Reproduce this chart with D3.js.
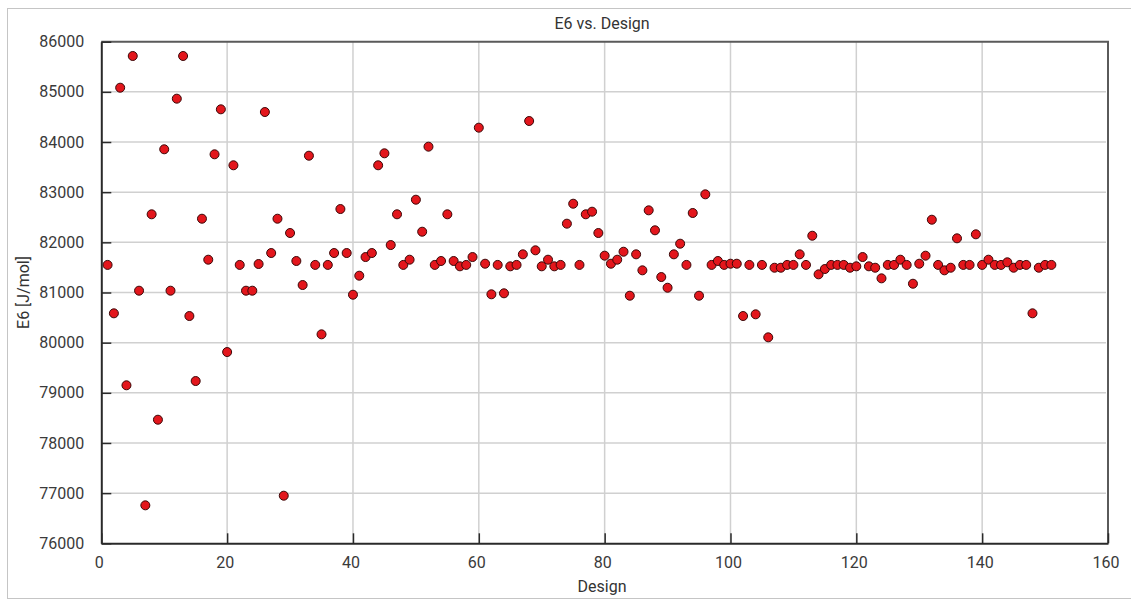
<!DOCTYPE html>
<html>
<head>
<meta charset="utf-8">
<script src="https://cdn.jsdelivr.net/npm/d3@7"></script>
<style>
  html, body { margin: 0; padding: 0; background: #fff; }
  svg { display: block; font-family: Roboto, "Noto Sans", sans-serif; }
</style>
</head>
<body>
<svg id="chart" width="1131" height="599"></svg>
<script>
// E6 energy per design
const e6Values = [
  81550, 80585, 85083, 79150, 85715, 81036, 76757, 82559, 78464, 83855,
  81036, 84864, 85715, 80531, 79235, 82471, 81654, 83755, 84652, 79813,
  83536, 81550, 81036, 81036, 81568, 84598, 81787, 82471, 76949, 82186,
  81628, 81149, 83727, 81550, 80166, 81550, 81787, 82664, 81787, 80956,
  81335, 81707, 81787, 83536, 83775, 81946, 82559, 81550, 81654, 82850,
  82212, 83907, 81550, 81628, 82559, 81628, 81522, 81550, 81707, 84286,
  81574, 80964, 81550, 80984, 81522, 81550, 81761, 84419, 81841, 81522,
  81654, 81522, 81550, 82372, 82770, 81550, 82559, 82611, 82186, 81734,
  81574, 81654, 81813, 80936, 81761, 81442, 82638, 82240, 81308, 81095,
  81761, 81973, 81550, 82585, 80936, 82957, 81550, 81628, 81550, 81574,
  81574, 80531, 81550, 80565, 81550, 80106, 81494, 81494, 81550, 81550,
  81761, 81550, 82132, 81362, 81468, 81550, 81550, 81550, 81494, 81522,
  81707, 81522, 81494, 81282, 81550, 81550, 81654, 81550, 81175, 81574,
  81734, 82451, 81550, 81442, 81494, 82080, 81550, 81550, 82160, 81550,
  81654, 81550, 81550, 81602, 81494, 81550, 81550, 80585, 81494, 81550,
  81550
];
// design ids run 1..N in the order the values were recorded
const designIds = e6Values.map((v, i) => i + 1);

const xTicks = [0, 20, 40, 60, 80, 100, 120, 140, 160];
const yTicks = [76000, 77000, 78000, 79000, 80000, 81000, 82000, 83000, 84000, 85000, 86000];

const titleText = "E6 vs. Design";
const xLabel = "Design";
const yLabel = "E6 [J/mol]";

const svg = d3.select("#chart");
const plotL = 101.3, plotR = 1108, plotT = 41.7, plotB = 543.3;

const x = d3.scaleLinear().domain([0, 160]).range([plotL, plotR]);
const y = d3.scaleLinear().domain([76000, 86000]).range([plotB, plotT]);

// outer dotted border
svg.append("rect")
  .attr("x", 7.5).attr("y", 8.5)
  .attr("width", 1135).attr("height", 590)
  .attr("fill", "none")
  .attr("stroke", "#8a8a8a")
  .attr("stroke-width", 1)
  .attr("stroke-dasharray", "1,1");

// grid
const grid = svg.append("g").attr("stroke", "#d0d0d0").attr("stroke-width", 1.5);
grid.selectAll("line.v").data(xTicks.slice(1, -1)).join("line")
  .attr("x1", d => x(d)).attr("x2", d => x(d))
  .attr("y1", plotT).attr("y2", plotB);
grid.selectAll("line.h").data(yTicks.slice(1, -1)).join("line")
  .attr("x1", plotL).attr("x2", plotR - 2)
  .attr("y1", d => y(d)).attr("y2", d => y(d));

// top and right frame
svg.append("path")
  .attr("d", `M${plotL},${plotT}H${plotR}V${plotB}`)
  .attr("fill", "none")
  .attr("stroke", "#5a5a5a")
  .attr("stroke-width", 2);

// axes with inward ticks
const xAxis = d3.axisBottom(x).tickValues(xTicks).tickFormat(d3.format("d"))
  .tickSizeInner(-10).tickSizeOuter(0).tickPadding(13);
const yAxis = d3.axisLeft(y).tickValues(yTicks).tickFormat(d3.format("d"))
  .tickSizeInner(-10).tickSizeOuter(0).tickPadding(17);

const gx = svg.append("g").attr("transform", `translate(0,${plotB})`).call(xAxis);
const gy = svg.append("g").attr("transform", `translate(${plotL},0)`).call(yAxis);

[gx, gy].forEach(g => {
  g.select(".domain").attr("stroke", "#2a2a2a").attr("stroke-width", 2);
  g.selectAll(".tick line").attr("stroke", "#2a2a2a").attr("stroke-width", 1.5);
  g.selectAll(".tick text")
    .attr("fill", "#3a3a3a")
    .style("font-family", "Roboto, sans-serif")
    .style("font-size", "16px");
});
gx.selectAll(".tick text").attr("dx", -2.5);

// labels
svg.append("text")
  .attr("x", 602).attr("y", 29)
  .attr("text-anchor", "middle")
  .attr("fill", "#333")
  .style("font-size", "16px")
  .text(titleText);

svg.append("text")
  .attr("x", 602).attr("y", 592)
  .attr("text-anchor", "middle")
  .attr("fill", "#333")
  .style("font-size", "16px")
  .text(xLabel);

svg.append("text")
  .attr("transform", `translate(29,${(plotT + plotB) / 2}) rotate(-90)`)
  .attr("text-anchor", "middle")
  .attr("fill", "#333")
  .style("font-size", "16px")
  .text(yLabel);

// points
svg.append("g").selectAll("circle")
  .data(e6Values.map((v, i) => ({ design: designIds[i], value: v })))
  .join("circle")
  .attr("cx", d => x(d.design))
  .attr("cy", d => y(d.value))
  .attr("r", 4.5)
  .attr("fill", "#e3161c")
  .attr("stroke", "#3a0808")
  .attr("stroke-width", 1);
</script>
</body>
</html>
